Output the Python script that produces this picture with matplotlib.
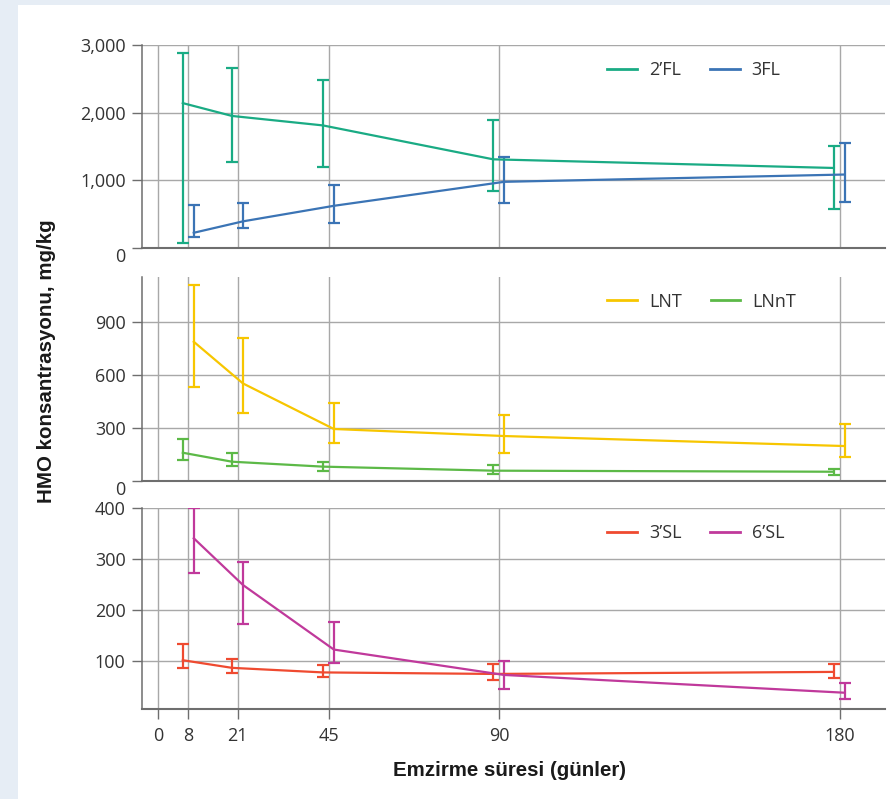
import numpy as np
import matplotlib
matplotlib.use("Agg")
import matplotlib.pyplot as plt
from matplotlib.patches import Rectangle
from matplotlib.ticker import FuncFormatter

# data (mean, lower and upper end of the bars)
days = [8, 21, 45, 90, 180]
x_ticks = [0, 8, 21, 45, 90, 180]

fl2_mean = [2140, 1950, 1810, 1308, 1180]
fl2_lo = [74, 1264, 1195, 846, 566]
fl2_hi = [2882, 2661, 2484, 1894, 1504]
fl3_mean = [221, 390, 620, 975, 1083]
fl3_lo = [153, 298, 360, 655, 674]
fl3_hi = [625, 660, 925, 1335, 1549]

lnt_mean = [790, 553, 294, 254, 197]
lnt_lo = [530, 386, 212, 158, 136]
lnt_hi = [1114, 811, 440, 373, 322]
lnnt_mean = [159, 108, 80, 57, 51]
lnnt_lo = [118, 84, 55, 36, 34]
lnnt_hi = [239, 156, 107, 89, 66]

sl3_mean = [101, 86, 77, 74, 78]
sl3_lo = [86, 76, 67, 63, 66]
sl3_hi = [133, 103, 91, 93, 93]
sl6_mean = [341, 249, 122, 72, 37]
sl6_lo = [273, 173, 95, 45, 25]
sl6_hi = [400, 295, 176, 100, 57]

GREEN_TEAL = "#1aab84"
BLUE = "#3b74b5"
YELLOW = "#f7c600"
GREEN = "#5cb947"
RED = "#ef4a30"
MAGENTA = "#c0399b"
GRID = "#a8a8a8"
SPINE = "#6e6e6e"
TXT = "#333333"

W, H = 890, 799
fig = plt.figure(figsize=(W / 100, H / 100), dpi=100, facecolor="#e6edf5")
fig.patches.append(Rectangle((18 / W, 0), 1 - 18 / W, 1 - 5 / H,
                             transform=fig.transFigure, facecolor="white",
                             edgecolor="none", zorder=-5))

left_px, right_px = 142.3, 885
# (top px, bottom px, ylim, yticks, series...)
panels = [
    (45, 247.7, (0, 3000), [0, 1000, 2000, 3000],
     [("2’FL", GREEN_TEAL, fl2_mean, fl2_lo, fl2_hi, -1.5),
      ("3FL", BLUE, fl3_mean, fl3_lo, fl3_hi, 1.4)]),
    (276.7, 480.7, (0, 1160), [0, 300, 600, 900],
     [("LNT", YELLOW, lnt_mean, lnt_lo, lnt_hi, 1.4),
      ("LNnT", GREEN, lnnt_mean, lnnt_lo, lnnt_hi, -1.5)]),
    (508.3, 709, (5, 400), [100, 200, 300, 400],
     [("3’SL", RED, sl3_mean, sl3_lo, sl3_hi, -1.5),
      ("6’SL", MAGENTA, sl6_mean, sl6_lo, sl6_hi, 1.4)]),
]

axes = []
for i, (top, bot, ylim, yt, series) in enumerate(panels):
    ax = fig.add_axes([left_px / W, 1 - bot / H, (right_px - left_px) / W, (bot - top) / H])
    ax.set_facecolor("none")
    ax.set_xlim(-4.2, 192)
    ax.set_ylim(*ylim)
    for s in ["top", "right"]:
        ax.spines[s].set_visible(False)
    ax.spines["left"].set_color(SPINE)
    ax.spines["left"].set_linewidth(1.1)
    ax.spines["bottom"].set_color(SPINE)
    ax.spines["bottom"].set_linewidth(1.5)
    ax.set_xticks(x_ticks)
    ax.set_yticks(yt)
    ax.grid(True, color=GRID, linewidth=1.0, zorder=1)
    ax.set_axisbelow(True)
    ax.yaxis.set_major_formatter(FuncFormatter(lambda v, p: f"{v:,.0f}"))
    ax.tick_params(axis="y", length=7, width=1, color=SPINE, pad=5,
                   labelsize=13, labelcolor=TXT)
    if i < 2:
        ax.tick_params(axis="x", length=0, labelbottom=False)
        lab0 = ax.get_yticklabels()[0]
        lab0.set_verticalalignment("top")
    else:
        ax.tick_params(axis="x", length=7, width=1, color=SPINE, pad=6,
                       labelsize=13, labelcolor=TXT)
    for lab in ax.get_xticklabels() + ax.get_yticklabels():
        lab.set_fontfamily("Open Sans")

    for name, col, m, lo, hi, off in series:
        x = np.array(days) + off
        m = np.array(m)
        yerr = [m - np.array(lo), np.array(hi) - m]
        ax.errorbar(x, m, yerr=yerr, color=col, linewidth=1.6, elinewidth=1.6,
                    capsize=4.6, capthick=1.6, label=name, zorder=3)

    h, l = ax.get_legend_handles_labels()
    hh = [plt.Line2D([], [], color=c.lines[0].get_color(), linewidth=2) for c in h]
    ax_h = bot - top
    ax.legend(hh, l, loc="upper left", ncol=2, frameon=False,
              bbox_to_anchor=((607 - left_px) / (right_px - left_px), 1 - 16 / ax_h),
              borderpad=0, borderaxespad=0, handlelength=1.66, handletextpad=0.66,
              columnspacing=1.6, prop={"family": "Open Sans", "size": 13},
              labelcolor=TXT)
    axes.append(ax)

fig.text(47 / W, 1 - 361 / H, "HMO konsantrasyonu, mg/kg", rotation=90,
         ha="center", va="center", fontsize=14.8, fontweight="bold",
         family="Liberation Sans", color="#1a1a1a")
fig.text(510 / W, 1 - 771 / H, "Emzirme süresi (günler)", ha="center", va="center",
         fontsize=14.8, fontweight="bold", family="Liberation Sans", color="#1a1a1a")

fig.savefig("out.png", dpi=100, facecolor=fig.get_facecolor())
